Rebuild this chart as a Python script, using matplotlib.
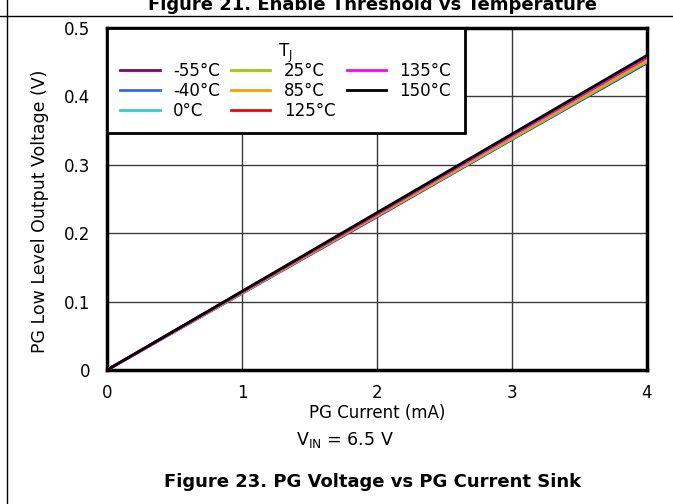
import matplotlib
matplotlib.use("Agg")
import matplotlib.pyplot as plt

plt.rcParams['font.family'] = ['DejaVu Sans']

# PG current sink (mA)
current = [0, 1, 2, 3, 4]

# PG low level output voltage (V) per junction temperature
v_m55 = [0, 0.112, 0.224, 0.337, 0.449]
v_m40 = [0, 0.1125, 0.225, 0.338, 0.450]
v_0 = [0, 0.113, 0.2255, 0.338, 0.451]
v_25 = [0, 0.113, 0.226, 0.339, 0.452]
v_85 = [0, 0.114, 0.227, 0.341, 0.455]
v_125 = [0, 0.114, 0.228, 0.343, 0.457]
v_135 = [0, 0.1145, 0.229, 0.343, 0.458]
v_150 = [0, 0.115, 0.230, 0.345, 0.460]

labels = ['-55°C', '-40°C', '0°C', '25°C', '85°C', '125°C', '135°C', '150°C']
colors = ['#800080', '#3366ff', '#33cccc', '#99cc00', '#ff9900', '#ff0000', '#ff00ff', '#000000']
series = [v_m55, v_m40, v_0, v_25, v_85, v_125, v_135, v_150]

xticks = [0, 1, 2, 3, 4]
yticks = [0, 0.1, 0.2, 0.3, 0.4, 0.5]
yticklabels = ['0', '0.1', '0.2', '0.3', '0.4', '0.5']

W, H = 673, 504
fig = plt.figure(figsize=(W / 100, H / 100), dpi=100)
ax = fig.add_axes([107 / W, 1 - 370 / H, 540 / W, 342 / H])

for vals, lab, col in zip(series, labels, colors):
    ax.plot(current, vals, color=col, lw=2, label=lab, zorder=3)

ax.set_xlim(0, 4)
ax.set_ylim(0, 0.5)
ax.set_xticks(xticks)
ax.set_yticks(yticks)
ax.set_yticklabels(yticklabels)
ax.tick_params(length=0, labelsize=12)
ax.tick_params(axis='x', pad=10)
ax.tick_params(axis='y', pad=12)
ax.grid(True, color='#3a3a3a', lw=1)
ax.set_axisbelow(True)
for s in ax.spines.values():
    s.set_linewidth(2.5)

ax.set_xlabel('PG Current (mA)', fontsize=12, va='center')
ax.xaxis.set_label_coords(0.5, -43 / 342)
ax.set_ylabel('PG Low Level Output Voltage (V)', fontsize=12.5, va='center', ha='center')
ax.yaxis.set_label_coords((40 - 107) / 540, (370 - 211) / 342)

leg = ax.legend(loc='upper left', bbox_to_anchor=(0, 1), ncol=3, title='T$_\\mathregular{J}$',
                fontsize=12, title_fontsize=12, handlelength=2.35, columnspacing=0.7,
                handletextpad=0.8, labelspacing=0.12, borderpad=0.8, borderaxespad=0,
                fancybox=False, framealpha=1, edgecolor='black')
leg.get_frame().set_linewidth(2)
leg.set_zorder(5)
# pull the rows a little closer to the title
leg._legend_box.sep = -2

fig.text(345 / W, 1 - 440 / H, 'V$_\\mathregular{IN}$ = 6.5 V', fontsize=12.5, ha='center', va='center')
fig.text(373 / W, 1 - 482 / H, 'Figure 23. PG Voltage vs PG Current Sink', fontsize=13,
         fontweight='bold', ha='center', va='center')
fig.text(373 / W, 1 - 5 / H, 'Figure 21. Enable Threshold vs Temperature', fontsize=13,
         fontweight='bold', ha='center', va='center')

# page frame lines
fig.add_artist(plt.Line2D([0, 1], [1 - 16 / H, 1 - 16 / H], transform=fig.transFigure, color='black', lw=1))
fig.add_artist(plt.Line2D([7 / W, 7 / W], [0, 1], transform=fig.transFigure, color='black', lw=1))

fig.savefig('out.png', dpi=100)
